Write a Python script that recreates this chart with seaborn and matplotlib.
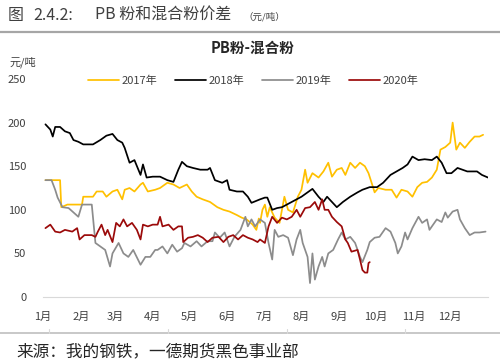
import numpy as np
import pandas as pd
import seaborn as sns
import matplotlib.pyplot as plt

sns.set_style("white")
plt.rcParams['font.family'] = ['Noto Sans CJK SC', 'DejaVu Sans']

# day of year / value (元/吨)
days_2017 = [2, 14, 15, 20, 32, 33, 41, 44, 49, 52, 57, 61, 65, 67, 71, 75, 80, 82, 86, 92,
             96, 102, 107, 112, 118, 122, 126, 131, 137, 143, 148, 153, 159, 163, 167, 172, 175, 177, 178, 180,
             182, 184, 186, 190, 194, 198, 201, 205, 209, 212, 215, 217, 221, 226, 230, 234, 237, 241, 245, 248,
             252, 256, 260, 264, 267, 270, 272, 275, 281, 286, 290, 294, 299, 303, 307, 311, 315, 319, 323, 326,
             330, 334, 336, 339, 342, 346, 350, 354, 358, 361]
vals_2017 = [134, 134, 103, 106, 106, 115, 115, 121, 121, 115, 121, 123, 112, 123, 125, 121, 129, 131, 121, 123,
             125, 131, 129, 125, 129, 121, 115, 112, 109, 103, 100, 98, 94, 91, 89, 83, 77, 90, 85, 100,
             106, 92, 103, 91, 85, 115, 100, 97, 115, 123, 146, 131, 142, 137, 144, 154, 138, 146, 148, 140,
             154, 148, 154, 150, 142, 129, 120, 125, 123, 123, 114, 123, 121, 115, 126, 131, 132, 137, 146, 169,
             172, 177, 200, 169, 177, 171, 178, 184, 184, 186]

days_2018 = [2, 6, 8, 10, 14, 18, 22, 25, 29, 33, 41, 47, 52, 57, 61, 65, 67, 71, 75, 80,
             82, 85, 90, 94, 96, 102, 107, 111, 114, 118, 123, 129, 135, 137, 141, 147, 151, 153, 159, 164,
             168, 171, 178, 182, 184, 188, 192, 196, 200, 204, 208, 212, 217, 221, 226, 230, 233, 237, 241, 246,
             252, 258, 262, 268, 274, 279, 285, 290, 295, 299, 303, 308, 313, 319, 323, 327, 331, 335, 340, 344,
             348, 352, 356, 360, 365]
vals_2018 = [198, 192, 184, 195, 195, 190, 188, 180, 178, 175, 175, 180, 185, 187, 180, 177, 171, 154, 157, 140,
             152, 137, 138, 138, 138, 134, 132, 146, 155, 150, 148, 146, 146, 148, 134, 131, 134, 123, 121, 121,
             115, 108, 112, 114, 114, 100, 102, 103, 106, 109, 112, 115, 120, 124, 115, 109, 115, 109, 103, 109,
             115, 120, 123, 126, 126, 131, 140, 144, 148, 152, 161, 157, 158, 157, 161, 154, 142, 142, 148, 146,
             144, 144, 144, 140, 137]

days_2019 = [2, 7, 10, 12, 16, 21, 25, 29, 32, 40, 43, 47, 51, 55, 57, 62, 66, 70, 74, 80,
             84, 88, 92, 94, 98, 102, 106, 110, 114, 116, 121, 126, 130, 135, 139, 141, 145, 149, 153, 157,
             162, 166, 168, 171, 174, 178, 182, 185, 188, 190, 193, 197, 201, 205, 208, 211, 213, 217, 219, 221,
             223, 226, 229, 231, 234, 238, 242, 245, 248, 252, 256, 260, 262, 266, 268, 272, 276, 281, 285, 289,
             291, 294, 297, 299, 303, 308, 311, 315, 317, 320, 323, 327, 330, 332, 336, 340, 342, 346, 350, 354,
             358, 363]
vals_2019 = [134, 134, 123, 114, 103, 102, 97, 92, 106, 106, 62, 58, 54, 35, 50, 62, 50, 46, 54, 37,
             46, 46, 54, 54, 58, 50, 60, 52, 56, 62, 58, 64, 58, 64, 64, 74, 68, 74, 58, 69,
             77, 92, 81, 89, 81, 89, 85, 62, 43, 77, 69, 71, 68, 48, 66, 77, 62, 46, 16, 50,
             20, 35, 46, 35, 50, 54, 66, 74, 66, 69, 62, 46, 40, 54, 63, 68, 69, 79, 75, 62,
             50, 58, 74, 66, 79, 92, 85, 89, 77, 83, 89, 86, 97, 91, 98, 100, 89, 79, 71, 74,
             74, 75]

days_2020 = [2, 6, 10, 14, 18, 24, 28, 30, 34, 40, 43, 45, 48, 51, 53, 57, 60, 63, 66, 69,
             73, 77, 80, 82, 86, 90, 94, 96, 98, 103, 107, 111, 114, 115, 119, 123, 127, 131, 135, 139,
             144, 148, 152, 156, 160, 164, 168, 172, 176, 178, 182, 185, 188, 192, 196, 200, 204, 208, 211, 215,
             219, 223, 226, 229, 231, 234, 237, 241, 245, 248, 250, 253, 258, 260, 262, 264, 266, 267, 268]
vals_2020 = [79, 83, 75, 74, 77, 75, 79, 66, 71, 71, 69, 75, 83, 71, 77, 63, 85, 81, 89, 81,
             85, 77, 66, 83, 81, 83, 83, 92, 81, 83, 77, 81, 81, 63, 68, 69, 71, 68, 63, 68,
             69, 63, 69, 71, 66, 71, 68, 66, 63, 66, 62, 81, 92, 85, 91, 89, 92, 100, 92, 102,
             103, 109, 100, 112, 100, 100, 92, 86, 81, 66, 62, 52, 54, 43, 31, 28, 28, 39, 40]

years = ['2017年', '2018年', '2019年', '2020年']
colors = ['#FFC000', '#000000', '#8C8C8C', '#9B0A0A']
month_days = [0, 31, 59, 90, 120, 151, 181, 212, 243, 273, 304, 334]
month_labels = ['%d月' % m for m in range(1, 13)]

frames = []
for yr, d, v in zip(years, [days_2017, days_2018, days_2019, days_2020],
                    [vals_2017, vals_2018, vals_2019, vals_2020]):
    frames.append(pd.DataFrame({'day': d, 'value': v, 'year': yr}))
df = pd.concat(frames, ignore_index=True)

fig = plt.figure(figsize=(5, 3.64), dpi=100)
ax = fig.add_axes([0.086, 0.184, 0.89, 0.599])

sns.lineplot(data=df, x='day', y='value', hue='year', palette=colors,
             estimator=None, linewidth=1.25, ax=ax)

ax.set_xlim(0, 365)
ax.set_ylim(0, 250)
ax.set_yticks([0, 50, 100, 150, 200, 250])
ax.set_xticks(month_days)
ax.set_xticklabels(month_labels)
ax.set_xlabel('')
ax.set_ylabel('')
ax.tick_params(axis='both', length=0, labelsize=8, colors='#404040')
ax.tick_params(axis='y', pad=12)
ax.tick_params(axis='x', pad=11)
for s in ['top', 'right', 'left']:
    ax.spines[s].set_visible(False)
ax.spines['bottom'].set_color('#D9D9D9')
ax.grid(False)

leg = ax.legend(ncol=4, loc='center', bbox_to_anchor=(0.506, 0.777),
                bbox_transform=fig.transFigure, frameon=False, fontsize=8,
                handlelength=2.8, handletextpad=0.2, columnspacing=1.6)
for t in leg.get_texts():
    t.set_color('#404040')

fig.text(0.506, 0.868, 'PB粉-混合粉', ha='center', va='center', fontsize=10.5,
         fontweight='bold', color='#262626')
fig.text(0.02, 0.83, '元/吨', ha='left', va='center', fontsize=8, color='#404040')

# page header / footer
fig.text(0.016, 0.958, '图', ha='left', va='center', fontsize=11.5, color='#404040')
fig.text(0.066, 0.958, '2.4.2:', ha='left', va='center', fontsize=11.5, color='#404040')
fig.text(0.19, 0.958, 'PB 粉和混合粉价差', ha='left', va='center', fontsize=11.5, color='#404040')
fig.text(0.486, 0.954, '（元/吨）', ha='left', va='center', fontsize=6.8, color='#404040')
fig.add_artist(plt.Line2D([0, 1], [0.912, 0.912], color='#A6A6A6', lw=1.6))
fig.add_artist(plt.Line2D([0, 1], [0.085, 0.085], color='#BFBFBF', lw=1.2))
for xt in [0.098, 0.336, 0.574, 0.81]:
    fig.add_artist(plt.Line2D([xt, xt], [0.085, 0.097], color='#D9D9D9', lw=0.8))
fig.text(0.032, 0.033, '来源：我的钢铁，一德期货黑色事业部', ha='left', va='center',
         fontsize=12, color='#262626')

fig.savefig('out.png', dpi=100)
